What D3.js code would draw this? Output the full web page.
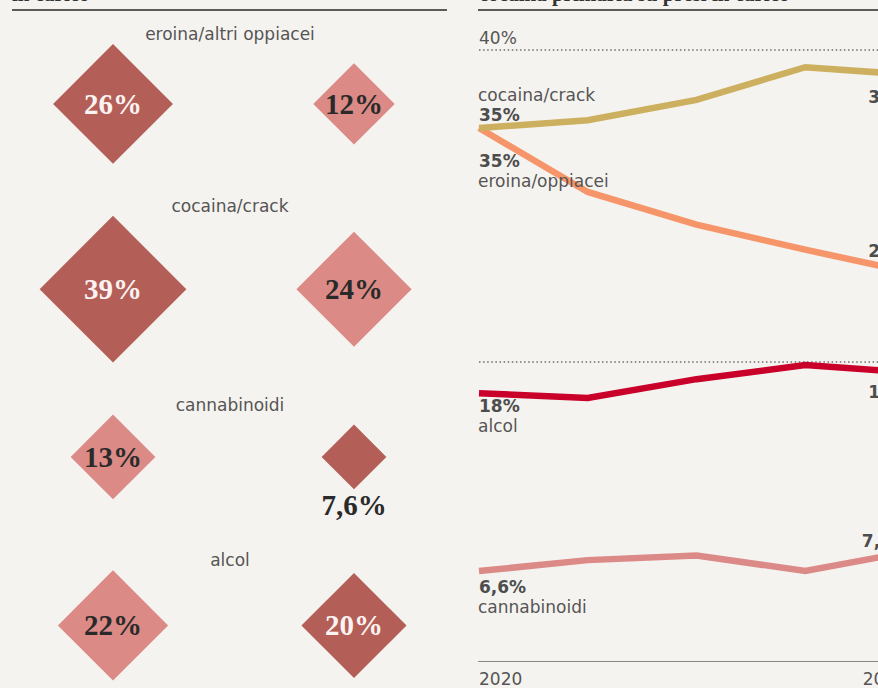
<!DOCTYPE html>
<html>
<head>
<meta charset="utf-8">
<script src="https://cdn.jsdelivr.net/npm/d3@7"></script>
<style>
  html, body { margin: 0; padding: 0; background: #f5f3ef; }
  svg { display: block; }
</style>
</head>
<body>
<svg id="chart" width="878" height="688"></svg>
<script>
// Quote per sostanza primaria (pannello a rombi)
const sostanze = ["eroina/altri oppiacei", "cocaina/crack", "cannabinoidi", "alcol"];
const quotaColonnaA = [26, 39, 13, 22];
const quotaColonnaB = [12, 24, 7.6, 20];
const evidenzaA = [1, 1, 0, 0];
const evidenzaB = [0, 0, 1, 1];

// Andamento annuale (pannello a linee)
const anni = [2020, 2021, 2022, 2023, 2024];
const serie = ["eroina/oppiacei", "cocaina/crack", "alcol", "cannabinoidi"];
const eroina = [35, 30.9, 28.8, 27.2, 25.7];
const cocaina = [35, 35.5, 36.8, 38.9, 38.4];
const alcol = [18, 17.7, 18.9, 19.8, 19.3];
const cannabinoidi = [6.6, 7.3, 7.6, 6.6, 7.9];
const griglia = [20, 40];

const fmt = v => (Math.round(v * 10) / 10).toString().replace(".", ",") + "%";
const fmtInt = v => Math.round(v) + "%";
const valueLabel = v => (v < 10 ? fmt(v) : fmtInt(v));

const svg = d3.select("#chart");
const SANS = "'DejaVu Sans', sans-serif";
const SERIF = "'Liberation Serif', 'Times New Roman', serif";
const GREY = "#555";

// ---------- headers ----------
svg.append("text").attr("x", 12).attr("y", 1)
  .attr("font-family", SERIF).attr("font-weight", 700).attr("font-size", 21)
  .attr("fill", "#333").text("in carico");
svg.append("text").attr("x", 479).attr("y", 1)
  .attr("font-family", SERIF).attr("font-weight", 700).attr("font-size", 21)
  .attr("fill", "#333").text("cocaina primaria su presi in carico");

svg.append("line").attr("x1", 12).attr("x2", 447).attr("y1", 10).attr("y2", 10)
  .attr("stroke", "#5c5a57").attr("stroke-width", 2);
svg.append("line").attr("x1", 478).attr("x2", 878).attr("y1", 10).attr("y2", 10)
  .attr("stroke", "#5c5a57").attr("stroke-width", 2);

// ---------- diamonds ----------
const left = svg.append("g");
const col = d3.scalePoint().domain(["A", "B"]).range([113, 354]);
const size = d3.scaleSqrt().domain([0, 40]).range([0, 11.75 * Math.sqrt(40)]);
const tone = d3.scaleOrdinal().domain([0, 1]).range(["#dc8a86", "#b45e58"]);
const ink = d3.scaleOrdinal().domain([0, 1]).range(["#2a2a2a", "#fbf3f1"]);
const fitsInside = 36;

const diamond = (cx, cy, h) => `M${cx},${cy - h}L${cx + h},${cy}L${cx},${cy + h}L${cx - h},${cy}Z`;

let baseline = 40;
sostanze.forEach((name, i) => {
  const cells = [
    { c: "A", v: quotaColonnaA[i], e: evidenzaA[i] },
    { c: "B", v: quotaColonnaB[i], e: evidenzaB[i] }
  ];
  const maxH = d3.max(cells, d => size(d.v));
  const cy = baseline + 4 + maxH;

  left.append("text")
    .attr("x", 230).attr("y", baseline)
    .attr("text-anchor", "middle")
    .attr("font-family", SANS).attr("font-size", 17)
    .attr("fill", GREY).text(name);

  let bottom = cy + maxH;
  cells.forEach(d => {
    const h = size(d.v);
    const cx = col(d.c);
    left.append("path").attr("d", diamond(cx, cy, h)).attr("fill", tone(d.e));
    const inside = h >= fitsInside;
    const ty = inside ? cy + 10 : cy + h + 26;
    left.append("text")
      .attr("x", cx).attr("y", ty)
      .attr("text-anchor", "middle")
      .attr("font-family", SERIF).attr("font-weight", 700).attr("font-size", 29)
      .attr("fill", inside ? ink(d.e) : "#2a2a2a")
      .text(valueLabel(d.v));
    if (!inside) bottom = Math.max(bottom, ty + 3);
  });
  baseline = bottom + 48;
});

// ---------- lines ----------
const x = d3.scaleLinear().domain([anni[0], anni[anni.length - 1]]).range([479, 914]);
const y = d3.scaleLinear().domain([0, 40]).range([674, 50]);
const plotBottom = 661.5;

const right = svg.append("g");

right.selectAll("line.grid").data(griglia).join("line")
  .attr("class", "grid")
  .attr("x1", 479).attr("x2", 878)
  .attr("y1", d => y(d)).attr("y2", d => y(d))
  .attr("stroke", "#6f6d6a").attr("stroke-width", 1.5)
  .attr("stroke-dasharray", "1.5,2.6");

right.append("text").attr("x", 479).attr("y", y(griglia[1]) - 6)
  .attr("font-family", SANS).attr("font-size", 17).attr("fill", GREY)
  .text(griglia[1] + "%");

right.append("line").attr("x1", 478).attr("x2", 878)
  .attr("y1", plotBottom).attr("y2", plotBottom)
  .attr("stroke", "#8a8885").attr("stroke-width", 1.2);

right.append("text").attr("x", x(anni[0])).attr("y", 685)
  .attr("font-family", SANS).attr("font-size", 17).attr("fill", GREY)
  .text(anni[0]);
right.append("text").attr("x", x(anni[anni.length - 1]) - 8).attr("y", 685)
  .attr("text-anchor", "end")
  .attr("font-family", SANS).attr("font-size", 17).attr("fill", GREY)
  .text(anni[anni.length - 1]);

const colori = {
  "eroina/oppiacei": "#f7956a",
  "cocaina/crack": "#cdb05f",
  "alcol": "#c8002a",
  "cannabinoidi": "#dc8a87"
};
const valori = {
  "eroina/oppiacei": eroina,
  "cocaina/crack": cocaina,
  "alcol": alcol,
  "cannabinoidi": cannabinoidi
};
// label placement: start/end offsets from the line, and whether the name sits above
const place = {
  "eroina/oppiacei": { start: 39, nameAbove: false, end: -16 },
  "cocaina/crack": { start: -7, nameAbove: true, end: 28 },
  "alcol": { start: 19, nameAbove: false, end: 25 },
  "cannabinoidi": { start: 22, nameAbove: false, end: -4 }
};

const line = d3.line().x(d => x(d[0])).y(d => y(d[1]));

serie.forEach(s => {
  const vals = valori[s];
  right.append("path")
    .datum(anni.map((a, i) => [a, vals[i]]))
    .attr("d", line)
    .attr("fill", "none")
    .attr("stroke", colori[s])
    .attr("stroke-width", 6.5);
});

serie.forEach(s => {
  const vals = valori[s];
  const p = place[s];
  const y0 = y(vals[0]) + p.start;
  right.append("text").attr("x", x(anni[0])).attr("y", y0)
    .attr("font-family", SANS).attr("font-weight", 700).attr("font-size", 17)
    .attr("fill", "#4d4d4d").text(valueLabel(vals[0]));
  right.append("text").attr("x", x(anni[0]) - 1).attr("y", p.nameAbove ? y0 - 20 : y0 + 20)
    .attr("font-family", SANS).attr("font-size", 17)
    .attr("fill", GREY).text(s);

  const last = vals[vals.length - 1];
  right.append("text").attr("x", x(anni[anni.length - 1]) - 5)
    .attr("y", y(last) + p.end)
    .attr("text-anchor", "end")
    .attr("font-family", SANS).attr("font-weight", 700).attr("font-size", 17)
    .attr("fill", "#4d4d4d").text(valueLabel(last));
});
</script>
</body>
</html>
